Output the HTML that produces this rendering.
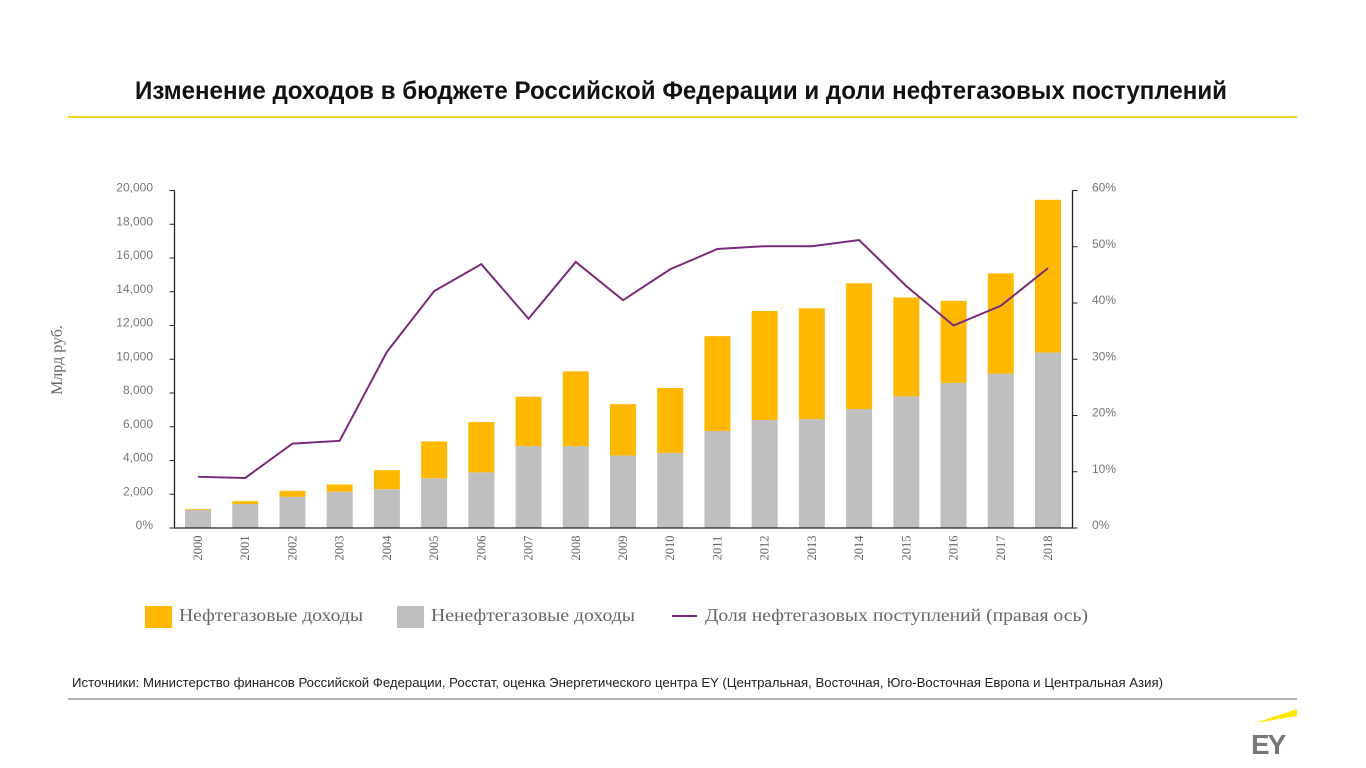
<!DOCTYPE html>
<html><head><meta charset="utf-8">
<style>
html,body{margin:0;padding:0;background:#fff;width:1366px;height:768px;overflow:hidden}
svg{display:block}
</style></head>
<body>
<svg id="chart" width="1366" height="768" xmlns="http://www.w3.org/2000/svg">
<text x="681" y="99" text-anchor="middle" font-family="'Liberation Sans Narrow','Liberation Sans',sans-serif" font-weight="bold" font-size="25" fill="#111" textLength="1092" lengthAdjust="spacingAndGlyphs">Изменение доходов в бюджете Российской Федерации и доли нефтегазовых поступлений</text>
<line x1="68" y1="117" x2="1297" y2="117" stroke="#f2d21a" stroke-width="2"/>
<g id="plot"></g>
<text transform="translate(62,360) rotate(-90)" text-anchor="middle" font-family="'Liberation Serif',serif" font-size="16" fill="#666">Млрд руб.</text>
<g>
<rect x="145" y="606" width="27" height="22" fill="#ffb800"/>
<text x="179" y="621" font-family="'Liberation Serif',serif" font-size="18" fill="#666" textLength="184" lengthAdjust="spacingAndGlyphs">Нефтегазовые доходы</text>
<rect x="397" y="606" width="27" height="22" fill="#c0bfbf"/>
<text x="431" y="621" font-family="'Liberation Serif',serif" font-size="18" fill="#666" textLength="204" lengthAdjust="spacingAndGlyphs">Ненефтегазовые доходы</text>
<line x1="672" y1="616" x2="697" y2="616" stroke="#7a2a7a" stroke-width="2"/>
<text x="705" y="621" font-family="'Liberation Serif',serif" font-size="18" fill="#666" textLength="383" lengthAdjust="spacingAndGlyphs">Доля нефтегазовых поступлений (правая ось)</text>
</g>
<text x="72" y="687" font-family="'Liberation Sans Narrow','Liberation Sans',sans-serif" font-size="13" fill="#222" textLength="1091" lengthAdjust="spacingAndGlyphs">Источники: Министерство финансов Российской Федерации, Росстат, оценка Энергетического центра EY (Центральная, Восточная, Юго-Восточная Европа и Центральная Азия)</text>
<line x1="68" y1="699" x2="1297" y2="699" stroke="#666" stroke-width="1"/>
<polygon points="1255,723 1297,709 1297,716" fill="#ffe600"/>
<text x="1251" y="754" font-family="'Liberation Sans',sans-serif" font-weight="bold" font-size="28" fill="#777" letter-spacing="-2">EY</text>
</svg>
<script>
const years=["2000","2001","2002","2003","2004","2005","2006","2007","2008","2009","2010","2011","2012","2013","2014","2015","2016","2017","2018"];
const nonOil=[1080,1420,1850,2150,2300,2950,3300,4850,4850,4300,4450,5750,6400,6450,7050,7800,8600,9150,10400];
const oilGas=[50,170,350,430,1130,2180,2980,2930,4430,3040,3850,5620,6460,6570,7450,5860,4860,5940,9050];
const sharePct=[9.1,8.9,15.0,15.5,31.3,42.1,46.9,37.2,47.3,40.5,46.0,49.6,50.1,50.1,51.2,43.0,36.0,39.5,46.2];
const leftTicks=[0,2000,4000,6000,8000,10000,12000,14000,16000,18000,20000];
const leftTickLabels=["0%","2,000","4,000","6,000","8,000","10,000","12,000","14,000","16,000","18,000","20,000"];
const rightTicks=[0,10,20,30,40,50,60];
const rightTickLabels=["0%","10%","20%","30%","40%","50%","60%"];

const NS="http://www.w3.org/2000/svg";
const g=document.getElementById('plot');
const X0=174.5,X1=1072.5,Y0=528,Y1=190.5;
const yL=v=>Y0-(v/20000)*(Y0-Y1);
const yR=v=>Y0-(v/60)*(Y0-Y1);
const xC=i=>198+i*(1048-198)/(years.length-1);
function mk(t,a){const e=document.createElementNS(NS,t);for(const k in a)e.setAttribute(k,a[k]);g.appendChild(e);return e;}
const font="'Liberation Sans',sans-serif";
years.forEach((y,i)=>{
  const w=26,x=xC(i)-w/2;
  const r1=mk('rect',{x:x,y:yL(nonOil[i]),width:w,height:Y0-yL(nonOil[i]),fill:'#c0bfbf'});
  
  
  const r2=mk('rect',{x:x,y:yL(nonOil[i]+oilGas[i]),width:w,height:yL(nonOil[i])-yL(nonOil[i]+oilGas[i]),fill:'#ffb800'});
  
  
  const t=mk('text',{transform:`translate(${xC(i)+4},548) rotate(-90)`,'text-anchor':'middle','font-family':"'Liberation Serif',serif",'font-size':12.5,fill:'#666'});
  t.textContent=y;
  
  
});
const la=mk('path',{d:`M${X0},${Y1} V${Y0} H${X1} V${Y1}`,fill:'none',stroke:'#222','stroke-width':1.3});


leftTicks.forEach((v,i)=>{
  const tk=mk('line',{x1:X0-5,x2:X0,y1:yL(v),y2:yL(v),stroke:'#222'});
  
  
  const t=mk('text',{x:153,y:yL(v)+1,'text-anchor':'end','font-family':font,'font-size':12,fill:'#777'});
  t.textContent=leftTickLabels[i];
  
  
});
rightTicks.forEach((v,i)=>{
  const tk=mk('line',{x1:X1,x2:X1+5,y1:yR(v),y2:yR(v),stroke:'#222'});
  
  
  const t=mk('text',{x:1092,y:yR(v)+1,'font-family':font,'font-size':12,fill:'#777'});
  t.textContent=rightTickLabels[i];
  
  
});
const pts=sharePct.map((v,i)=>xC(i)+','+yR(v)).join(' ');
const pl=mk('polyline',{points:pts,fill:'none',stroke:'#7a2a7a','stroke-width':2});


</script>
</body></html>
